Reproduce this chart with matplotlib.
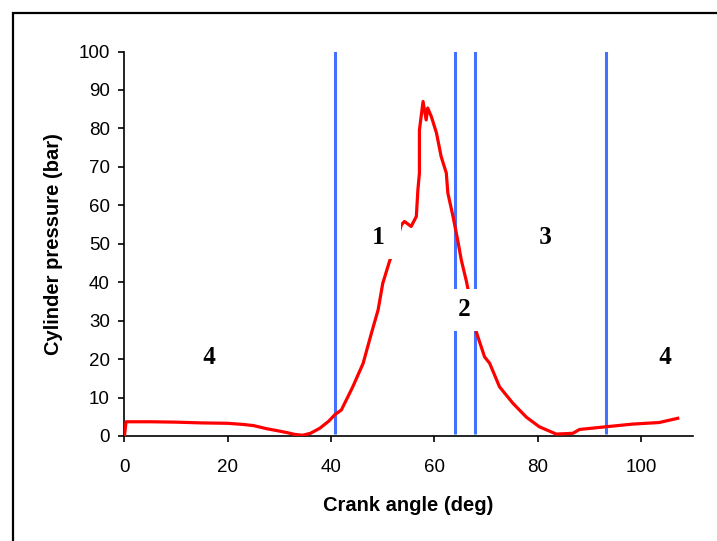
import numpy as np
import matplotlib
matplotlib.use("Agg")
import matplotlib.pyplot as plt
from matplotlib.patches import Rectangle

# Pressure trace
crank = [0, 0.3, 5, 10, 15, 20, 23, 25, 27.5, 29.5, 31.4, 33, 34.5, 36, 37.8,
         39.5, 40.7, 42.0, 44.2, 46.2, 47.8, 49.1, 50.0, 51.3, 52.5, 53.6, 54.2,
         55.5, 56.5, 56.8, 57.1, 57.1, 57.8, 58.4, 58.7, 59.4, 60.4, 61.3, 62.3,
         62.6, 63.6, 64.5, 65.2, 66.2, 67.2, 68.1, 69.7, 70.7, 72.6, 75.2, 77.8,
         80.3, 83.6, 86.8, 88.1, 93.2, 98.4, 103.5, 107.1]
pressure = [0, 3.7, 3.7, 3.6, 3.4, 3.3, 3.0, 2.7, 1.9, 1.4, 0.9, 0.4, 0.2, 0.7, 2.0,
            3.8, 5.5, 6.8, 12.8, 18.9, 26.7, 32.8, 39.7, 45.4, 50.0, 54.9, 55.8,
            54.5, 57.1, 64.0, 68.4, 79.6, 87.0, 82.2, 85.3, 83.1, 78.8, 72.7, 68.4,
            63.2, 57.1, 51.0, 45.8, 40.2, 33.5, 27.1, 20.6, 18.9, 12.8, 8.5, 4.9,
            2.4, 0.5, 0.7, 1.7, 2.4, 3.1, 3.5, 4.6]

# phase boundaries
boundaries = [40.7, 63.9, 67.8, 93.3]

# phase labels
phase_names = ["1", "2", "3", "4", "4"]
phase_x = [49.2, 65.8, 81.5, 16.5, 104.7]
phase_y = [51.5, 32.8, 51.5, 20.3, 20.3]

fig = plt.figure(figsize=(7.17, 5.41), dpi=100)
ax = fig.add_axes([0.1736, 0.1941, 0.7925, 0.7107])

ax.vlines(boundaries, 0.5, 100.5, colors="#4472ff", lw=2.2, zorder=2)
ax.plot(crank, pressure, color="red", lw=2.3, zorder=3)

# white text boxes, padded wider than tall like the original
for name, x, y in zip(phase_names, phase_x, phase_y):
    ax.text(x, y, " " + name + " ", ha="center", va="center", fontsize=18,
            fontweight="bold", family="Liberation Serif", zorder=5,
            bbox=dict(facecolor="white", edgecolor="none", pad=7))

ax.set_xlim(0, 110)
ax.set_ylim(0, 100)
ax.set_xticks(np.arange(0, 101, 20))
ax.set_yticks(np.arange(0, 101, 10))
for s in ["top", "right"]:
    ax.spines[s].set_visible(False)
for s in ["left", "bottom"]:
    ax.spines[s].set_linewidth(1.2)
ax.tick_params(direction="out", length=4.5, width=1.2,
               labelsize=13.5, labelfontfamily="Liberation Sans")
ax.tick_params(axis="x", pad=12)
ax.tick_params(axis="y", pad=6)

ax.set_xlabel("Crank angle (deg)", fontsize=14.5, fontweight="bold",
              family="Liberation Sans")
ax.set_ylabel("Cylinder pressure (bar)", fontsize=14.5, fontweight="bold",
              family="Liberation Sans")
ax.xaxis.set_label_coords(0.5, -0.155)
ax.yaxis.set_label_coords(-0.108, 0.5)

# outer chart border (runs off the right and bottom of the image)
fig.patches.append(Rectangle((12.5 / 717, -0.1), 1.0, 1 - 12.5 / 541 + 0.1,
                             transform=fig.transFigure, fill=False,
                             edgecolor="black", lw=1.6))

fig.savefig("out.png", dpi=100)
